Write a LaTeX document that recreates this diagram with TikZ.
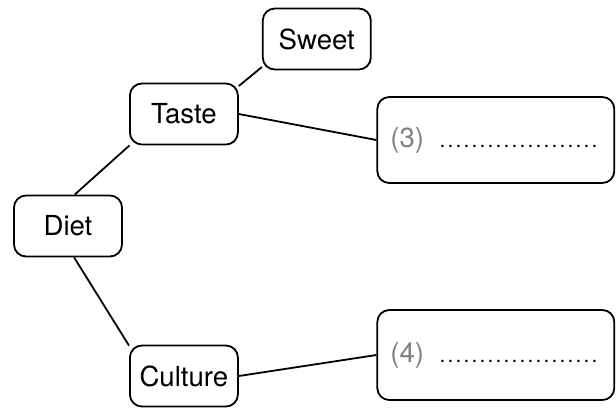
\documentclass[tikz,border=0pt]{standalone}
\usepackage{fontspec}
\setmainfont{TeX Gyre Heros}
\usepackage{tikz}

\newcommand{\blankline}{{\fontsize{10.5pt}{10pt}\selectfont\leaders\hbox to 4pt{\hss.\hss}\hskip 84pt}\hbox{}}

\begin{document}
\begin{tikzpicture}
  \tikzstyle{topic} = [rectangle,rounded corners=6pt,minimum height=30.5pt,minimum
  width=54pt,inner sep=0pt,font=\fontsize{13.8pt}{16pt}\selectfont,draw=black,line width=0.9pt]
  \tikzstyle{answer} = [topic,minimum width=118.5pt,minimum height=43pt]
  \tikzstyle{link} =[line width=0.9pt]

  \useasboundingbox (-34pt,-91.5pt) rectangle (274pt,113pt);

  \node[topic,name=diet] at (0,0) {Diet};
  \node[topic,name=taste,right of=diet,xshift=29.5pt,yshift=56pt] {Taste};
  \node[topic,name=sweet,right of=taste,xshift=38pt,yshift=37.5pt] {Sweet};
  \node[topic,name=culture,below of=taste,yshift=-102.55pt] {Culture};

  \node[answer,name=ans3,right of=taste,xshift=127.5pt,yshift=-13pt]
  {{\color{black!50}(3)}\hspace{4.5pt}\blankline};
  \node[answer,name=ans4,right of=culture,xshift=127.5pt,yshift=10.5pt,minimum height=45pt]
  {{\color{black!50}(4)}\hspace{4.5pt}\blankline};

  \path (diet.78) edge[link] (taste.210);
  \path (diet.281) edge[link] (culture.151);
  \path (taste.27) edge[link] (sweet.207);
  \path (taste.east) edge[link] (ans3.west);
  \path (culture.east) edge[link] (ans4.west);

\end{tikzpicture}
\end{document}
